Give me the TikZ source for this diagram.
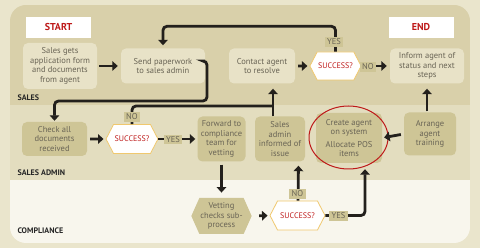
\documentclass[tikz,border=0pt]{standalone}
\usepackage{fontspec}
\setmainfont{PT Sans}
\usetikzlibrary{arrows.meta,shapes.symbols}

\definecolor{pagebg}{RGB}{234,229,204}
\definecolor{salesbg}{RGB}{217,208,170}
\definecolor{adminbg}{RGB}{227,221,191}
\definecolor{compbg}{RGB}{248,246,237}
\definecolor{boxlight}{RGB}{232,226,199}
\definecolor{boxdark}{RGB}{206,197,150}
\definecolor{txtgray}{RGB}{105,100,85}
\definecolor{redtxt}{RGB}{190,25,25}
\definecolor{hexline}{RGB}{240,200,110}
\definecolor{arrowc}{RGB}{35,32,28}

\tikzset{
  lightbox/.style={fill=boxlight, rounded corners=5pt, text=txtgray, align=center,
    font=\fontsize{8.5}{9.5}\selectfont, inner sep=1pt},
  darkbox/.style={lightbox, fill=boxdark},
  tagbox/.style={fill=boxdark, text=txtgray, font=\fontsize{8.5}{9}\selectfont,
    inner xsep=2.5pt, inner ysep=1.5pt},
  test/.style={signal, signal to=west and east, signal pointer angle=125,
    draw=hexline, fill=white, line width=0.8pt, text=redtxt, align=center,
    font=\fontsize{8}{9}\selectfont, minimum width=46pt, minimum height=28pt, inner xsep=1pt},
  endbox/.style={fill=white, text=redtxt, font=\bfseries\fontsize{10}{11}\selectfont,
    minimum width=65pt, minimum height=21pt},
  lane/.style={anchor=base west, font=\bfseries\fontsize{8}{9}\selectfont, text=black!85},
  flow/.style={draw=arrowc, line width=2.8pt, rounded corners=4pt,
    -{Triangle[length=5.5pt,width=9.5pt]}},
  line/.style={draw=arrowc, line width=2.8pt, rounded corners=4pt},
}

\begin{document}
\begin{tikzpicture}[x=1pt,y=-1pt]
\useasboundingbox (0,0) rectangle (480,248);
\fill[pagebg] (0,0) rectangle (480,248);

% swimlanes
\begin{scope}
  \clip[rounded corners=16pt] (10,5) rectangle (470,243);
  \fill[salesbg] (10,5) rectangle (470,105);
  \fill[adminbg] (10,105) rectangle (470,180);
  \fill[compbg] (10,180) rectangle (470,243);
\end{scope}
\node[lane] (lsales) at (14,101) {SALES};
\node[lane] (ladmin) at (14,176) {SALES ADMIN};
\node[lane] (lcomp) at (14,234) {COMPLIANCE};

% start / end
\node[endbox] (start) at (58.5,27.5) {START};
\node[endbox] (end) at (421,27.5) {END};

% sales lane
\node[lightbox, minimum width=74pt, minimum height=46pt] (gets) at (60,66)
  {Sales gets\\application form\\and documents\\from agent};
\node[lightbox, minimum width=84pt, minimum height=35pt] (send) at (163,66)
  {Send paperwork\\to sales admin};
\node[lightbox, minimum width=66pt, minimum height=35pt] (contact) at (262,66)
  {Contact agent\\to resolve};
\node[test] (ok1) at (335.5,66) {SUCCESS?};
\node[lightbox, minimum width=74pt, minimum height=35pt] (inform) at (427,66)
  {Inform agent of\\status and next\\steps};

% sales admin lane
\node[darkbox, minimum width=65pt, minimum height=34pt] (check) at (54.5,139)
  {Check all\\documents\\received};
\node[test, minimum width=52pt, minimum height=29pt] (ok2) at (132,139) {SUCCESS?};
\node[darkbox, minimum width=48pt, minimum height=45pt] (forward) at (221.5,139)
  {Forward to\\compliance\\team for\\vetting};
\node[darkbox, minimum width=50pt, minimum height=45pt] (informed) at (280,139)
  {Sales\\admin\\informed of\\issue};
\node[darkbox, minimum width=66pt, minimum height=50pt] (create) at (349,138)
  {Create agent\\on system\\[3pt]Allocate POS\\items};
\draw[redtxt, line width=1pt] (348.5,137.5) ellipse [x radius=39.5pt, y radius=31.5pt];
\node[darkbox, minimum width=52pt, minimum height=43pt] (arrange) at (430,134)
  {Arrange\\agent\\training};

% compliance lane
\node[test, fill=boxdark, draw=none, signal pointer angle=132, text=txtgray,
  font=\fontsize{8.5}{9.5}\selectfont, minimum width=54pt, minimum height=36pt]
  (vet) at (221.5,216) {Vetting\\checks sub-\\process};
\node[test, minimum width=55pt, minimum height=29pt] (ok3) at (297.5,215.5) {SUCCESS?};

% connectors
\coordinate (join) at (273,106);
\draw[flow, shorten <=2pt, shorten >=3pt] (gets) -- (send);
\draw[flow] ([yshift=5pt]send.east) -| (207,101) -| ([yshift=1pt]check.north);
\draw[flow] (ok1.north) |- ([yshift=22pt]send.north) -- ([yshift=3pt]send.north);
\draw[flow, shorten <=3pt, shorten >=2pt] (contact) -- (ok1);
\draw[flow, shorten >=3pt] (ok1.east) -- (inform.west);
\draw[flow, shorten <=1pt, shorten >=5pt] ([xshift=-3pt]arrange.north) -- ([xshift=-3pt]arrange.north |- inform.south);
\draw[line] (ok2.north) |- (join);
\draw[flow, shorten >=5pt] (informed.north -| join) -- (join |- contact.south);
\draw[flow, shorten <=3pt, shorten >=2pt] (check) -- (ok2);
\draw[flow, shorten >=2pt] (ok2.east) -- (forward.west);
\draw[flow, shorten <=3pt, shorten >=5pt] (forward.south) -- (vet.north);
\draw[flow, shorten <=7pt, shorten >=2pt] (vet.east) -- (ok3.west);
\draw[flow] (ok3.east) -| ([xshift=16pt,yshift=-6pt]create.south);
\draw[flow, shorten >=4pt] ([xshift=0.5pt]ok3.north) -- ([xshift=18.5pt]informed.south);
\draw[flow, shorten >=3pt, shorten <=3pt] (arrange.west) -- ([xshift=-1pt]create.east);

% YES / NO tags
\node[tagbox] (yes1) at (334,42) {YES};
\node[tagbox] (no1) at (368,67) {NO};
\node[tagbox] (no2) at (132,117) {NO};
\node[tagbox] (yes2) at (173,139.5) {YES};
\node[tagbox] (no3) at (297.5,194) {NO};
\node[tagbox] (yes3) at (338.5,216) {YES};
\end{tikzpicture}
\end{document}
